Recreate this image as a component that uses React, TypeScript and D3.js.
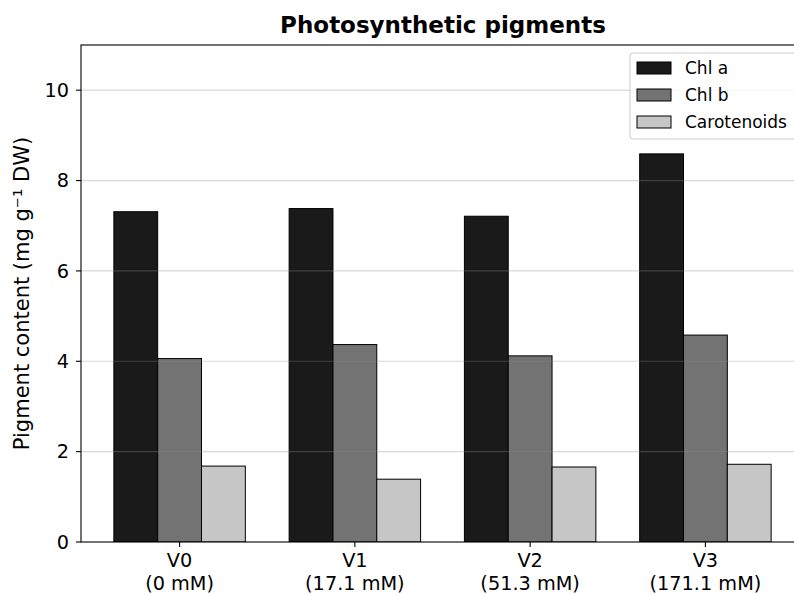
import React from "react";
import * as d3 from "d3";

const categories = ["V0", "V1", "V2", "V3"];
const categorySub = ["(0 mM)", "(17.1 mM)", "(51.3 mM)", "(171.1 mM)"];
const seriesNames = ["Chl a", "Chl b", "Carotenoids"];
const chlA = [7.31, 7.38, 7.21, 8.59];
const chlB = [4.06, 4.37, 4.12, 4.58];
const carotenoids = [1.68, 1.39, 1.66, 1.72];
const seriesColors = ["#1a1a1a", "#737373", "#c6c6c6"];
const yTicks = [0, 2, 4, 6, 8, 10];

const W = 794;
const H = 594;
const left = 81;
const right = 804;
const top = 45;
const bottom = 542;
const FONT = "DejaVu Sans, sans-serif";

export default function App() {
  const series = [chlA, chlB, carotenoids];
  const x = d3.scaleLinear().domain([-0.5625, 3.5625]).range([left, right]);
  const y = d3.scaleLinear().domain([0, 11]).range([bottom, top]);
  const barW = 0.25;
  const fs = 19.3;
  const lfs = 17;

  return (
    <svg width={W} height={H} style={{ position: "absolute", left: 0, top: 0 }} fontFamily={FONT}>
      <rect x={0} y={0} width={W} height={H} fill="white" />
      <defs>
        <clipPath id="plot">
          <rect x={left} y={top} width={right - left} height={bottom - top} />
        </clipPath>
      </defs>
      <g clipPath="url(#plot)">
        {series.map((vals, si) =>
          vals.map((v, ci) => {
            const cx = ci + (si - 1) * barW;
            const x0 = x(cx - barW / 2);
            const x1 = x(cx + barW / 2);
            return (
              <rect
                key={`${si}-${ci}`}
                x={x0}
                y={y(v)}
                width={x1 - x0}
                height={y(0) - y(v)}
                fill={seriesColors[si]}
                stroke="black"
                strokeWidth={1}
              />
            );
          })
        )}
        {yTicks.filter((t) => t > 0).map((t) => (
          <line key={t} x1={left} x2={right} y1={y(t)} y2={y(t)} stroke="#8c8c8c" strokeOpacity={0.33} strokeWidth={1.2} />
        ))}
      </g>
      {/* spines */}
      <rect x={left} y={top} width={right - left} height={bottom - top} fill="none" stroke="black" strokeWidth={1.1} />
      {/* y ticks */}
      {yTicks.map((t) => (
        <g key={t}>
          <line x1={left - 5} x2={left} y1={y(t)} y2={y(t)} stroke="black" strokeWidth={1.1} />
          <text x={left - 12} y={y(t)} dy="0.35em" textAnchor="end" fontSize={fs} fill="black">
            {t}
          </text>
        </g>
      ))}
      {/* x ticks */}
      {categories.map((c, i) => (
        <g key={c}>
          <line x1={x(i)} x2={x(i)} y1={bottom} y2={bottom + 5} stroke="black" strokeWidth={1.1} />
          <text x={x(i)} y={567} textAnchor="middle" fontSize={fs} fill="black">
            {c}
          </text>
          <text x={x(i)} y={590} textAnchor="middle" fontSize={fs} fill="black">
            {categorySub[i]}
          </text>
        </g>
      ))}
      {/* y label */}
      <text
        transform={`translate(29, ${(top + bottom) / 2}) rotate(-90)`}
        textAnchor="middle"
        fontSize={21}
        fill="black"
      >
        Pigment content (mg g⁻¹ DW)
      </text>
      {/* title */}
      <text x={443} y={33} textAnchor="middle" fontSize={23} fontWeight="bold" fill="black">
        Photosynthetic pigments
      </text>
      {/* legend */}
      <g>
        <rect x={630} y={53} width={170} height={86} rx={3} fill="white" fillOpacity={0.8} stroke="#cccccc" strokeWidth={1} />
        {seriesNames.map((n, i) => (
          <g key={n}>
            <rect x={637} y={62 + i * 27} width={34} height={12} fill={seriesColors[i]} stroke="black" strokeWidth={1} />
            <text x={685} y={68 + i * 27} dy="0.35em" fontSize={lfs} fill="black">
              {n}
            </text>
          </g>
        ))}
      </g>
    </svg>
  );
}
